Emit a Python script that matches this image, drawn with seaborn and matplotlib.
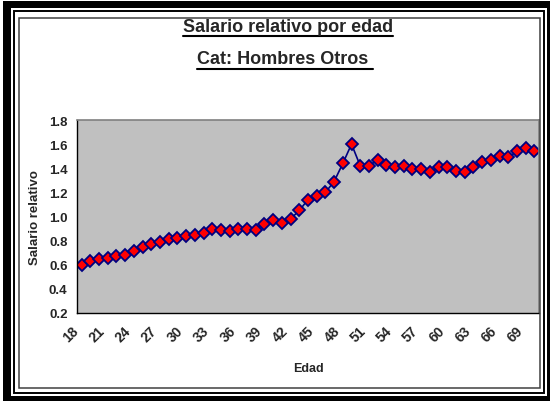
import matplotlib
matplotlib.use("Agg")
import matplotlib.pyplot as plt
from matplotlib.patches import Rectangle
from matplotlib.lines import Line2D
from matplotlib.transforms import ScaledTranslation
from matplotlib.ticker import FixedLocator, FormatStrFormatter
import seaborn as sns
import pandas as pd


# ages 18..70 and relative salary
edades = list(range(18, 71))
salario = [0.60, 0.63, 0.65, 0.66, 0.67, 0.68, 0.71, 0.75, 0.77, 0.79,
           0.81, 0.82, 0.84, 0.85, 0.86, 0.90, 0.89, 0.88, 0.90, 0.90,
           0.89, 0.94, 0.97, 0.95, 0.98, 1.05, 1.14, 1.17, 1.20, 1.29,
           1.44, 1.60, 1.42, 1.42, 1.47, 1.43, 1.41, 1.42, 1.39, 1.39,
           1.37, 1.41, 1.41, 1.38, 1.37, 1.41, 1.45, 1.47, 1.50, 1.49,
           1.54, 1.57, 1.54]
etiquetas_x = list(range(18, 70, 3))
ticks_y = [0.2, 0.4, 0.6, 0.8, 1.0, 1.2, 1.4, 1.6, 1.8]
titulo_1 = "Salario relativo por edad"
titulo_2 = "Cat: Hombres Otros "

W, H = 554, 402

sns.set_style("white", {"axes.facecolor": "#C0C0C0"})
plt.rcParams["font.family"] = ["Liberation Sans", "DejaVu Sans"]

fig = plt.figure(figsize=(W / 100, H / 100), dpi=100)
fig.patch.set_facecolor("white")


def fx(x):
    return x / W


def fy(y):
    return 1 - y / H


def box(x0, y0, x1, y1, **kw):
    fig.patches.append(Rectangle((fx(x0), fy(y1)), fx(x1) - fx(x0), fy(y0) - fy(y1),
                                 transform=fig.transFigure, figure=fig, **kw))


# decorative frame
box(3, 2, 11, 398, facecolor="black", edgecolor="none")
box(3, 2, 550, 9, facecolor="black", edgecolor="none")
box(547, 2, 550, 402, facecolor="black", edgecolor="none")
box(3, 397, 550, 402, facecolor="black", edgecolor="none")
box(14, 12, 544, 394, facecolor="none", edgecolor="black", linewidth=1.4)
box(19, 18.5, 539.5, 388.5, facecolor="none", edgecolor="#404040", linewidth=1.1)

left, right, top, bottom = 77.3, 538.7, 121, 314
ax = fig.add_axes([fx(left), fy(bottom), fx(right) - fx(left), fy(top) - fy(bottom)])

df = pd.DataFrame({"Edad": edades, "Salario relativo": salario})
sns.lineplot(data=df, x="Edad", y="Salario relativo", ax=ax, color="#000080",
             linewidth=1.2, marker="D", markersize=6.0, markerfacecolor="#FF0000",
             markeredgecolor="#000080", markeredgewidth=1.3)

ax.set_xlim(edades[0] - 0.5, edades[-1] + 0.5)
ax.set_ylim(0.2, 1.8)
ax.set_yticks(ticks_y)
ax.yaxis.set_major_formatter(FormatStrFormatter("%.1f"))
ax.set_xticks(etiquetas_x)
ax.xaxis.set_minor_locator(FixedLocator([e - 0.5 for e in edades] + [edades[-1] + 0.5]))
ax.tick_params(axis="x", which="major", length=0, pad=11)
ax.tick_params(axis="x", which="minor", length=4, width=0.8, color="black", direction="out")
ax.tick_params(axis="y", length=4, width=0.8, color="black", direction="out", pad=3)

for sp in ["left", "bottom"]:
    ax.spines[sp].set_color("black")
    ax.spines[sp].set_linewidth(1.0)
for sp in ["top", "right"]:
    ax.spines[sp].set_color("#808080")
    ax.spines[sp].set_linewidth(1.2)

for lab in ax.get_yticklabels():
    lab.set_fontweight("bold")
    lab.set_fontsize(9.5)
for lab in ax.get_xticklabels():
    lab.set_fontweight("bold")
    lab.set_fontsize(10)
    lab.set_rotation(45)
    lab.set_ha("right")
    lab.set_va("center")
    lab.set_rotation_mode("anchor")
    lab.set_transform(lab.get_transform() + ScaledTranslation(-0.05, 0, fig.dpi_scale_trans))

ax.set_xlabel("Edad", fontsize=9, fontweight="bold", labelpad=13)
ax.set_ylabel("Salario relativo", fontsize=9.5, fontweight="bold", labelpad=6)

# two-line underlined title
t1 = fig.text(fx(288), fy(32.5), titulo_1, ha="center", va="baseline",
              fontsize=13, fontweight="bold")
t2 = fig.text(fx(285), fy(64.5), titulo_2, ha="center", va="baseline",
              fontsize=13, fontweight="bold")
renderer = fig.canvas.get_renderer()
for t, uy in [(t1, 37.0), (t2, 70.0)]:
    bb = t.get_window_extent(renderer)
    fig.lines.append(Line2D([bb.x0 / W, bb.x1 / W], [fy(uy), fy(uy)],
                            transform=fig.transFigure, color="black", linewidth=1.5))

fig.savefig("out.png", dpi=100)
plt.close(fig)
